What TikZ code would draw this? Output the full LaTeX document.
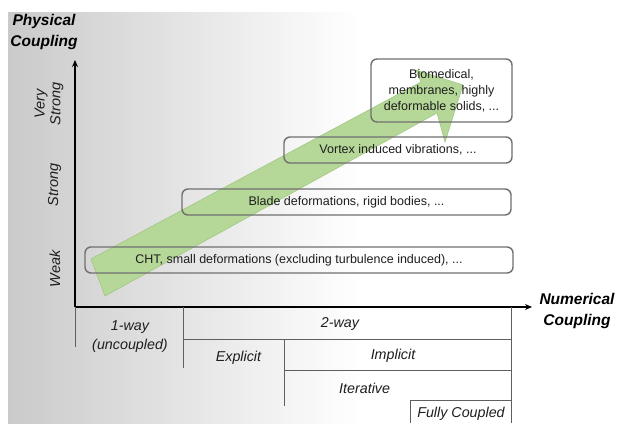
\documentclass[tikz,border=0pt]{standalone}
\usepackage{fontspec}
\setmainfont{Liberation Sans}
\usetikzlibrary{arrows.meta}
\definecolor{arrowgreen}{RGB}{181,216,152}
\definecolor{arrowedge}{RGB}{160,200,130}
\definecolor{boxgray}{RGB}{112,112,112}
\definecolor{linegray}{RGB}{95,95,95}
\definecolor{bggray}{RGB}{202,202,202}
\definecolor{txt}{RGB}{30,30,30}
\begin{document}
\begin{tikzpicture}[x=1pt,y=-1pt,
  cbox/.style={draw=boxgray, line width=1.4pt, rounded corners=6pt, inner sep=0pt,
    font=\fontsize{12.5}{16}\selectfont, text=txt, align=center},
  axis/.style={line width=1.6pt, -{Stealth[length=7pt,width=6pt]}},
  axtitle/.style={font=\fontsize{15.5}{21}\selectfont\bfseries\itshape, align=center, inner sep=0pt},
  ylab/.style={font=\fontsize{14.5}{15.6}\selectfont\itshape, align=center, rotate=90, inner sep=0pt, text=txt},
  tlab/.style={font=\fontsize{14.3}{19}\selectfont\itshape, align=center, inner sep=0pt, text=txt},
  tline/.style={draw=linegray, line width=1pt}]
\useasboundingbox (0,0) rectangle (618,423);
\fill[white] (0,0) rectangle (618,423);
\shade[left color=bggray, right color=white] (8,12) rectangle (360,423);

% green arrow
\filldraw[fill=arrowgreen, draw=arrowedge, line width=0.6pt]
  (91,259) -- (421,82) -- (416,70) -- (463,85) -- (445,142) -- (437,113) -- (105,296) -- cycle;

% boxes
\node[cbox, minimum width=428pt, minimum height=26pt] (cht) at (299,260)
  {CHT, small deformations (excluding turbulence induced), ...};
\node[cbox, minimum width=329pt, minimum height=26pt] (blade) at (346.5,202)
  {Blade deformations, rigid bodies, ...};
\node[cbox, minimum width=228pt, minimum height=26pt] (vortex) at (398,150)
  {Vortex induced vibrations, ...};
\node[cbox, minimum width=141pt, minimum height=63pt] (bio) at (441.5,90.5)
  {Biomedical,\\membranes, highly\\deformable solids, ...};

% axes
\coordinate (O) at (75,307);
\coordinate (Ytip) at (75,60);
\coordinate (Xtip) at (532,307);
\draw[axis] (O) -- (Ytip);
\draw[axis] (O) -- (Xtip);

\node[axtitle] (phys) at (44,32) {Physical\\Coupling};
\node[axtitle] (num) at (577,310.5) {Numerical\\Coupling};

\node[ylab] (weak) at (55,269) {Weak};
\node[ylab] (strong) at (54.5,185) {Strong};
\node[ylab] (vstrong) at (49,104) {Very\\Strong};

% table
\draw[tline] (75,307) -- (75,347);
\draw[tline] (183,307) -- (183,368);
\draw[tline] (511,307) -- (511,423);
\draw[tline] (183,339) -- (511,339);
\draw[tline] (284.6,339) -- (284.6,406);
\draw[tline] (284.6,370.7) -- (511,370.7);
\draw[tline] (410,423) -- (410,400) -- (511,400);

\node[tlab] (oneway) at (130,336.5) {1-way\\(uncoupled)};
\node[tlab] (twoway) at (340,324) {2-way};
\node[tlab] (explicit) at (238.5,358) {Explicit};
\node[tlab] (implicit) at (393,356) {Implicit};
\node[tlab] (iterative) at (364.6,388) {Iterative};
\node[tlab] (fully) at (461,414) {Fully Coupled};
\end{tikzpicture}
\end{document}
